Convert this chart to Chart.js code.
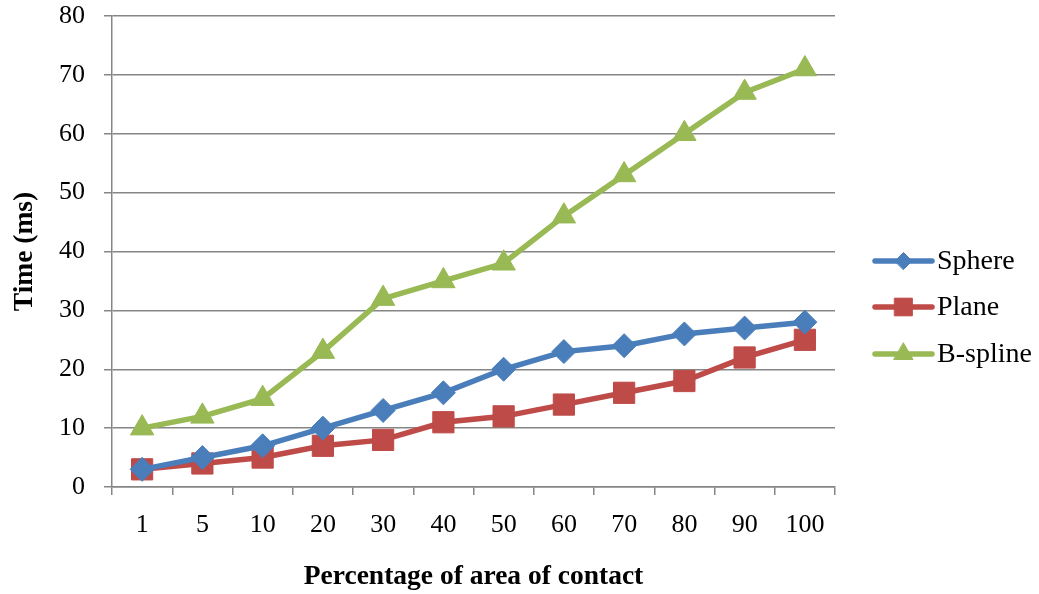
<!DOCTYPE html>
<html>
<head>
<meta charset="utf-8">
<script src="https://cdn.jsdelivr.net/npm/chart.js@4/dist/chart.umd.min.js"></script>
<style>
  html, body { margin: 0; padding: 0; background: #ffffff; }
  #wrap { width: 1039px; height: 594px; position: relative; }
</style>
</head>
<body>
<div id="wrap"><canvas id="c"></canvas></div>
<script>
// Percentage of contact area (x categories)
const categories = ['1', '5', '10', '20', '30', '40', '50', '60', '70', '80', '90', '100'];
// Computation time in milliseconds per surface type
const sphere = [3, 5, 7, 10, 13, 16, 20, 23, 24, 26, 27, 28];
const plane = [3, 4, 5, 7, 8, 11, 12, 14, 16, 18, 22, 25];
const bspline = [10, 12, 15, 23, 32, 35, 38, 46, 53, 60, 67, 71];
const seriesNames = ['Sphere', 'Plane', 'B-spline'];

const FONT = '"Liberation Serif", "Times New Roman", serif';
const GRID = '#868686';

// Legend on the right: a short line segment with the series marker, then the name
const sideLegend = {
  id: 'sideLegend',
  afterDraw(chart) {
    const ctx = chart.ctx;
    const x0 = 875, x1 = 932, tx = 937;
    const rows = [261, 307, 354];
    const legendRadius = [8.5, 12.5, 11];
    chart.data.datasets.forEach((ds, i) => {
      const y = rows[i];
      ctx.save();
      ctx.strokeStyle = ds.borderColor;
      ctx.lineWidth = 5.5;
      ctx.lineCap = 'round';
      ctx.beginPath();
      ctx.moveTo(x0, y);
      ctx.lineTo(x1, y);
      ctx.stroke();
      ctx.fillStyle = ds.pointBackgroundColor;
      ctx.strokeStyle = ds.pointBorderColor;
      ctx.lineWidth = 1;
      Chart.helpers.drawPoint(ctx, { pointStyle: ds.pointStyle, radius: legendRadius[i], borderWidth: 1, rotation: 0 }, (x0 + x1) / 2, y);
      ctx.fillStyle = '#000000';
      ctx.font = '28px ' + FONT;
      ctx.textBaseline = 'middle';
      ctx.textAlign = 'left';
      ctx.fillText(ds.label, tx, y + 1);
      ctx.restore();
    });
  }
};

function series(label, data, color, style, radius) {
  return {
    label, data,
    borderColor: color,
    backgroundColor: color,
    pointBackgroundColor: color,
    pointBorderColor: color,
    pointStyle: style,
    pointRadius: radius,
    pointHoverRadius: radius,
    pointBorderWidth: 1,
    borderWidth: 5.5,
    tension: 0,
    fill: false
  };
}

new Chart(document.getElementById('c'), {
  type: 'line',
  data: {
    labels: categories,
    datasets: [
      series(seriesNames[0], sphere, '#4A7EBB', 'rectRot', 12),
      series(seriesNames[1], plane, '#BE4B48', 'rect', 15),
      series(seriesNames[2], bspline, '#98B954', 'triangle', 13.5)
    ]
  },
  options: {
    responsive: true,
    maintainAspectRatio: false,
    animation: false,
    layout: { padding: { top: 0, right: 204, bottom: 0, left: 0 } },
    plugins: { legend: { display: false }, tooltip: { enabled: false } },
    scales: {
      x: {
        offset: true,
        grid: { display: true, offset: true, drawOnChartArea: false, drawTicks: true, tickLength: 8, color: GRID, lineWidth: 1.5 },
        border: { display: true, color: GRID, width: 1.5 },
        ticks: { color: '#000000', font: { family: FONT, size: 26 }, padding: 15, maxRotation: 0, autoSkip: false },
        title: { display: true, text: 'Percentage of area of contact', color: '#000000', font: { family: FONT, size: 27.5, weight: 'bold' }, padding: { top: 0, bottom: 1 } },
        afterFit(scale) { scale.height = 107; }
      },
      y: {
        min: 0, max: 80,
        ticks: { stepSize: 10, color: '#000000', font: { family: FONT, size: 26 }, padding: 19 },
        grid: { color: GRID, lineWidth: 1.5, tickLength: 8, drawTicks: true },
        border: { display: true, color: GRID, width: 1.5 },
        title: { display: true, text: 'Time (ms)', color: '#000000', font: { family: FONT, size: 27.5, weight: 'bold' }, padding: { top: 8, bottom: 0 } },
        afterFit(scale) {
          scale.width = 112;
          // keep the plot's top edge at the half-height of the top tick label
          scale.paddingTop = 15;
        }
      }
    }
  },
  plugins: [sideLegend]
});
</script>
</body>
</html>
